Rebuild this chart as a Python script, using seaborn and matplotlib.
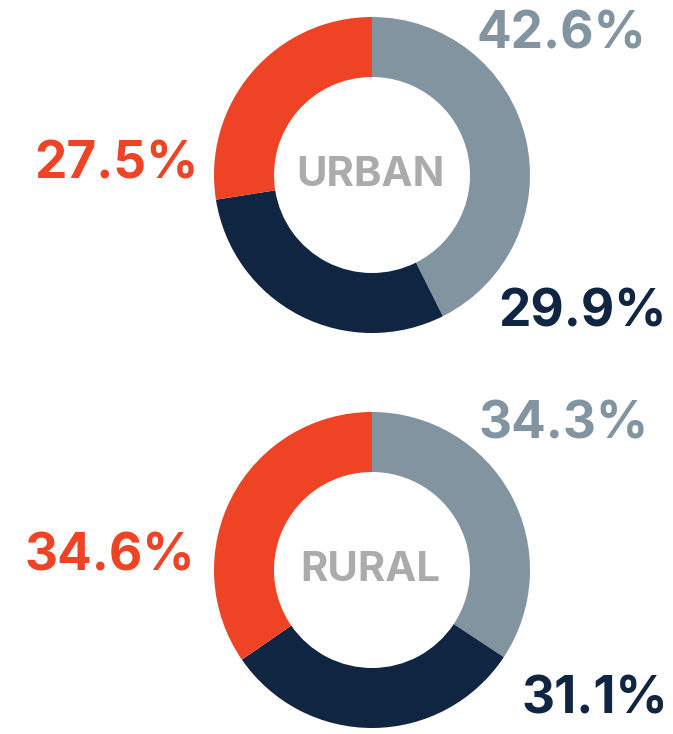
import matplotlib
matplotlib.use("Agg")
import matplotlib.pyplot as plt
import seaborn as sns

# DATOS
grupos = ["URBAN", "RURAL"]
segmentos = ["gris", "azul", "naranja"]
urbano = [42.6, 29.9, 27.5]
rural = [34.3, 31.1, 34.6]

colores = ["#8394A1", "#0F2541", "#EE4325"]
COLOR_CENTRO = "#ABABAB"

sns.set_theme(style="white")
plt.rcParams["font.family"] = ["Inter", "DejaVu Sans"]

W, H = 673, 734
fig = plt.figure(figsize=(W / 100, H / 100), dpi=100)
ax = fig.add_axes([0, 0, 1, 1])
ax.set_xlim(0, W)
ax.set_ylim(0, H)
ax.set_aspect("equal")
ax.axis("off")

# centros de cada dona (pixeles, y desde arriba) y posiciones de etiquetas
centros = [(372, 175), (372, 570)]
pos_etiquetas = [
    [(561, 35), (582, 313), (116, 165)],
    [(564, 425), (595, 700), (110, 557)],
]

for nombre, valores, (cx, cy), posiciones in zip(grupos, [urbano, rural], centros, pos_etiquetas):
    ax.pie(valores, colors=colores, center=(cx, H - cy), radius=158,
           startangle=90, counterclock=False,
           wedgeprops=dict(width=60, linewidth=0))
    ax.text(cx - 2, H - cy, nombre, ha="center", va="center",
            fontsize=30, fontweight="bold", color=COLOR_CENTRO)
    for v, c, (px, py) in zip(valores, colores, posiciones):
        ax.text(px, H - py, f"{v}%", ha="center", va="center",
                fontsize=37, fontweight="bold", color=c)

ax.set_xlim(0, W)
ax.set_ylim(0, H)
fig.savefig("out.png", dpi=100, facecolor="white")
